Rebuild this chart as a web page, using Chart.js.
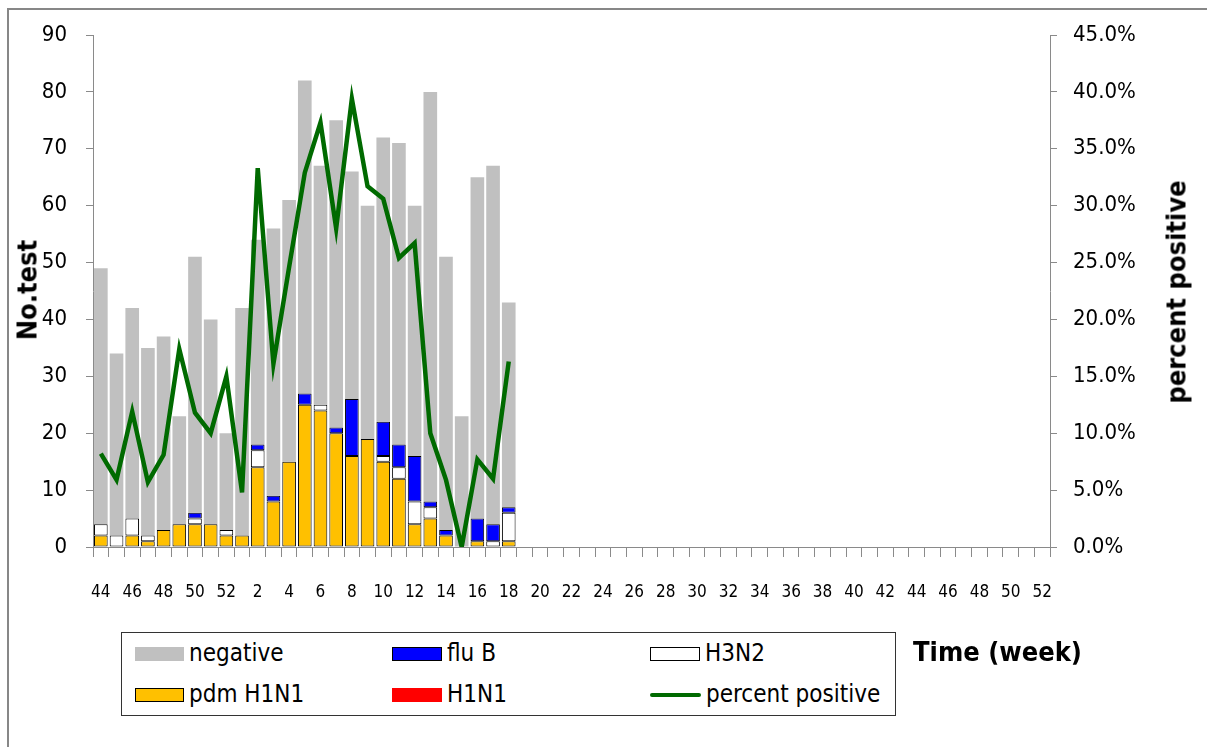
<!DOCTYPE html>
<html>
<head>
<meta charset="utf-8">
<script src="https://cdn.jsdelivr.net/npm/chart.js@4"></script>
<style>
  body { margin: 0; background: #fff; font-family: 'DejaVu Sans Condensed', 'DejaVu Sans', sans-serif; }
  #wrap { position: relative; width: 1207px; height: 747px; overflow: hidden; }
  #frame { position: absolute; left: 7px; top: 8px; width: 1300px; height: 800px; border: 2px solid #878787; }
  canvas { position: absolute; left: 0; top: 0; }
  .title { position: absolute; font-weight: bold; white-space: nowrap; color: #000; }
  .rot { transform: translate(-50%, -50%) rotate(-90deg); }
  #legend { position: absolute; left: 121px; top: 632px; width: 773px; height: 82px; border: 1px solid #333; background: #fff; }
  .item { position: absolute; font-size: 24px; line-height: 24px; white-space: nowrap; }
  .sw { position: absolute; box-sizing: border-box; height: 14px; }
</style>
</head>
<body>
<div id="wrap">
  <div id="frame"></div>
  <canvas id="fluChart" width="1207" height="747"></canvas>
  <div class="title rot" style="left:27px; top:290px; font-size:27px;">No.test</div>
  <div class="title rot" style="left:1176px; top:292px; font-size:27px;">percent positive</div>
  <div class="title" style="left:913px; top:636px; font-size:27px;">Time (week)</div>
  <div id="legend"></div>
</div>
<script>
// weeks 44-52 of the first year, then weeks 1-52 of the next
const weeks = [44, 45, 46, 47, 48, 49, 50, 51, 52,
  1, 2, 3, 4, 5, 6, 7, 8, 9, 10, 11, 12, 13, 14, 15, 16, 17, 18, 19, 20,
  21, 22, 23, 24, 25, 26, 27, 28, 29, 30, 31, 32, 33, 34, 35, 36, 37, 38, 39, 40,
  41, 42, 43, 44, 45, 46, 47, 48, 49, 50, 51, 52];

// counts for week 44 .. week 18 (later weeks have no data yet)
const pdmH1N1  = [2, 0, 2, 1, 3, 4, 4, 4, 2, 2, 14, 8, 15, 25, 24, 20, 16, 19, 15, 12, 4, 5, 2, 0, 1, 0, 1];
const h1n1     = [0, 0, 0, 0, 0, 0, 0, 0, 0, 0, 0, 0, 0, 0, 0, 0, 0, 0, 0, 0, 0, 0, 0, 0, 0, 0, 0];
const h3n2     = [2, 2, 3, 1, 0, 0, 1, 0, 1, 0, 3, 0, 0, 0, 1, 0, 0, 0, 1, 2, 4, 2, 0, 0, 0, 1, 5];
const fluB     = [0, 0, 0, 0, 0, 0, 1, 0, 0, 0, 1, 1, 0, 2, 0, 1, 10, 0, 6, 4, 8, 1, 1, 0, 4, 3, 1];
const negative = [45, 32, 37, 33, 34, 19, 45, 36, 17, 40, 36, 47, 46, 55, 42, 54, 40, 41, 50, 53, 44, 72, 48, 23, 60, 63, 36];
const percentPositive = [8.2, 5.9, 11.9, 5.7, 8.1, 17.4, 11.8, 10.0, 15.0, 4.8, 33.3, 16.1, 24.6, 32.9,
  37.3, 28.0, 39.4, 31.7, 30.6, 25.4, 26.7, 10.0, 5.9, 0.0, 7.7, 6.0, 16.3];

const countTicks = [0, 10, 20, 30, 40, 50, 60, 70, 80, 90];
const percentTicks = [0, 5, 10, 15, 20, 25, 30, 35, 40, 45];

// pad a series with nulls for the weeks without data
function pad(arr) {
    const out = arr.slice();
    while (out.length < weeks.length) out.push(null);
    return out;
}

const axisGray = '#8a8a8a';
Chart.defaults.font.family = "'DejaVu Sans Condensed', 'DejaVu Sans', sans-serif";
Chart.defaults.color = '#000';

function barSet(label, data, color, border) {
    return {
        type: 'bar',
        label: label,
        data: pad(data),
        backgroundColor: color,
        borderColor: '#000',
        borderWidth: border ? 1 : 0,
        borderSkipped: false,
        barPercentage: 0.87,
        categoryPercentage: 1.0,
        stack: 'tests',
        yAxisID: 'y',
        order: 1
    };
}

const ctx = document.getElementById('fluChart').getContext('2d');
new Chart(ctx, {
    type: 'bar',
    data: {
        labels: weeks,
        datasets: [
            {
                type: 'line',
                label: 'percent positive',
                data: pad(percentPositive),
                borderColor: '#006a00',
                borderWidth: 4.5,
                pointRadius: 0,
                tension: 0,
                yAxisID: 'y1',
                order: 0
            },
            barSet('pdm H1N1', pdmH1N1, '#ffc000', true),
            barSet('H1N1', h1n1, '#ff0000', false),
            barSet('H3N2', h3n2, '#ffffff', true),
            barSet('flu B', fluB, '#0000ff', true),
            barSet('negative', negative, '#c0c0c0', false)
        ]
    },
    options: {
        responsive: false,
        animation: false,
        layout: { padding: { top: 35, left: 0, right: 0, bottom: 0 } },
        plugins: { legend: { display: false }, tooltip: { enabled: false } },
        scales: {
            x: {
                stacked: true,
                offset: true,
                afterFit: s => { s.height = 200; },
                grid: { offset: true, drawOnChartArea: false, drawTicks: true, tickLength: 10, color: axisGray },
                border: { color: axisGray, width: 1 },
                ticks: {
                    autoSkip: false,
                    maxRotation: 0,
                    padding: 25,
                    font: { size: 17 },
                    callback: (v, i) => i % 2 === 0 ? String(weeks[i]) : ''
                }
            },
            y: {
                stacked: true,
                position: 'left',
                min: countTicks[0],
                max: countTicks[countTicks.length - 1],
                afterFit: s => { s.width = 93; },
                afterBuildTicks: s => { s.ticks = countTicks.map(v => ({ value: v })); },
                grid: { drawOnChartArea: false, drawTicks: true, tickLength: 7, color: axisGray },
                border: { color: axisGray, width: 1 },
                ticks: { padding: 19, font: { size: 22 } }
            },
            y1: {
                position: 'right',
                min: percentTicks[0],
                max: percentTicks[percentTicks.length - 1],
                afterFit: s => { s.width = 157; },
                afterBuildTicks: s => { s.ticks = percentTicks.map(v => ({ value: v })); },
                grid: { drawOnChartArea: false, drawTicks: true, tickLength: 7, color: axisGray },
                border: { color: axisGray, width: 1 },
                ticks: {
                    padding: 16,
                    font: { size: 22 },
                    callback: v => v.toFixed(1) + '%'
                }
            }
        }
    }
});

// legend, laid out like the original box of three columns
const legendItems = [
    { text: 'negative',         x: 13,  y: 21, w: 49, fill: '#c0c0c0', border: 'none' },
    { text: 'flu B',            x: 270, y: 21, w: 50, fill: '#0000ff', border: '1px solid #000' },
    { text: 'H3N2',             x: 528, y: 21, w: 50, fill: '#ffffff', border: '1px solid #000' },
    { text: 'pdm H1N1',         x: 13,  y: 62, w: 49, fill: '#ffc000', border: '1px solid #000' },
    { text: 'H1N1',             x: 270, y: 62, w: 50, fill: '#ff0000', border: 'none' },
    { text: 'percent positive', x: 528, y: 62, w: 51, line: '#006a00' }
];
const legend = document.getElementById('legend');
legendItems.forEach(it => {
    const sw = document.createElement('div');
    sw.className = 'sw';
    sw.style.left = it.x + 'px';
    sw.style.width = it.w + 'px';
    if (it.line) {
        sw.style.height = '4px';
        sw.style.top = (it.y - 2) + 'px';
        sw.style.background = it.line;
        sw.style.borderRadius = '2px';
    } else {
        sw.style.top = (it.y - 7) + 'px';
        sw.style.background = it.fill;
        sw.style.border = it.border;
    }
    legend.appendChild(sw);
    const t = document.createElement('div');
    t.className = 'item';
    t.textContent = it.text;
    t.style.left = (it.x + it.w + 5) + 'px';
    t.style.top = (it.y - 13) + 'px';
    legend.appendChild(t);
});
</script>
</body>
</html>
